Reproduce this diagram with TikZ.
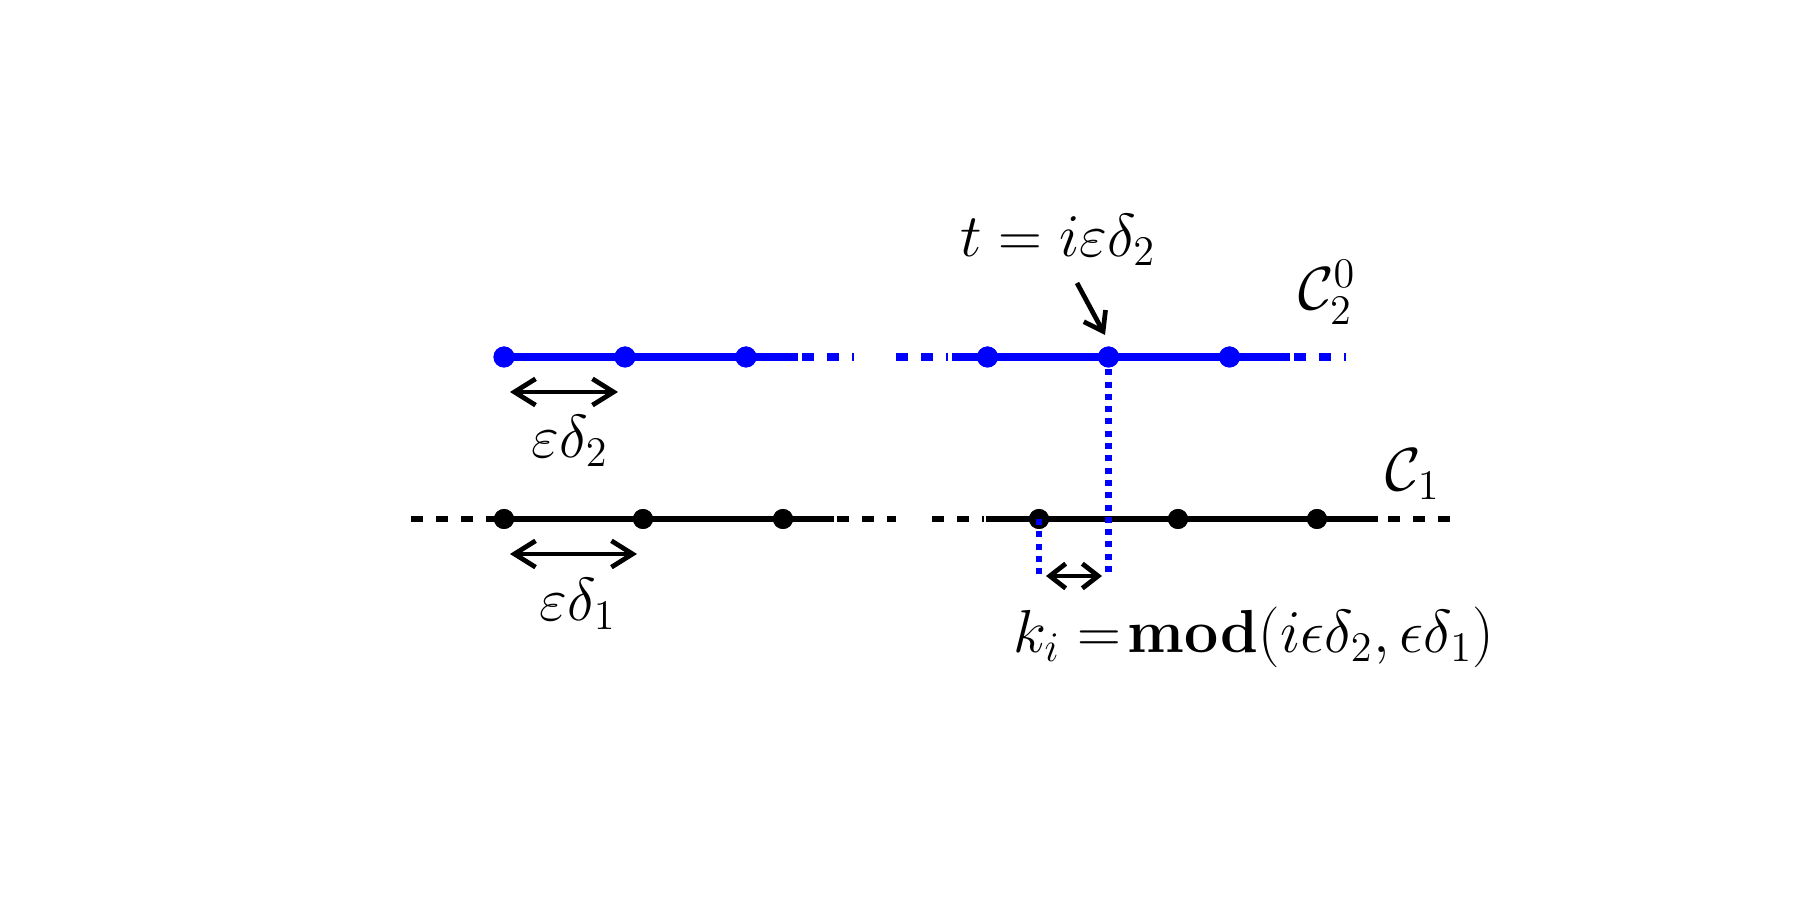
\documentclass[tikz,border=0pt]{standalone}
\usepackage{amsmath,amssymb}
\usetikzlibrary{arrows.meta}
\tikzset{
  bdot/.style={circle, fill=blue, draw=none, inner sep=0pt, minimum size=0.21cm},
  kdot/.style={circle, fill=black, draw=none, inner sep=0pt, minimum size=0.2cm},
  bline/.style={blue, line width=2.2pt},
  kline/.style={black, line width=1.9pt},
  dsh/.style={dash pattern=on 0.12cm off 0.13cm},
  vdots/.style={blue, line width=1.8pt, dash pattern=on 0.06cm off 0.063cm},
  dimarrow/.style={line width=1.35pt, {Straight Barb[length=6pt,width=7.5pt]}-{Straight Barb[length=6pt,width=7.5pt]}},
  smallarrow/.style={line width=1.35pt, {Straight Barb[length=4.5pt,width=7pt]}-{Straight Barb[length=4.5pt,width=7pt]}},
  ptarrow/.style={line width=1.35pt, -{Straight Barb[length=5pt,width=7pt]}},
  lbl/.style={font=\LARGE, inner sep=0pt}
}
\begin{document}
\begin{tikzpicture}
\useasboundingbox (0,0) rectangle (18,9);
% ---- blue line C_2^0 ----
\node[bdot] (b1) at (5.04,5.43) {};
\node[bdot] (b2) at (6.25,5.43) {};
\node[bdot] (b3) at (7.46,5.43) {};
\node[bdot] (b4) at (9.875,5.43) {};
\node[bdot] (b5) at (11.085,5.43) {};
\node[bdot] (b6) at (12.295,5.43) {};
\coordinate (bLe) at (7.98,5.43);
\coordinate (bLds) at (8.02,5.43);
\coordinate (bLde) at (8.54,5.43);
\coordinate (bRds) at (8.96,5.43);
\coordinate (bRde) at (9.48,5.43);
\coordinate (bRs) at (9.52,5.43);
\coordinate (bRe) at (12.90,5.43);
\coordinate (bEds) at (12.94,5.43);
\coordinate (bEde) at (13.46,5.43);
% ---- black line C_1 ----
\node[kdot] (k1) at (5.04,3.81) {};
\node[kdot] (k2) at (6.43,3.81) {};
\node[kdot] (k3) at (7.83,3.81) {};
\node[kdot] (k4) at (10.39,3.81) {};
\node[kdot] (k5) at (11.78,3.81) {};
\node[kdot] (k6) at (13.17,3.81) {};
\coordinate (kSds) at (4.11,3.81);
\coordinate (kLe) at (8.34,3.81);
\coordinate (kLds) at (8.37,3.81);
\coordinate (kLde) at (8.96,3.81);
\coordinate (kRds) at (9.32,3.81);
\coordinate (kRde) at (9.835,3.81);
\coordinate (kRs) at (9.86,3.81);
\coordinate (kRe) at (13.78,3.81);
\coordinate (kEds) at (13.88,3.81);
\coordinate (kEde) at (14.50,3.81);
% lines
\draw[bline] (b1.center) -- (bLe);
\draw[bline,dsh] (bLds) -- (bLde);
\draw[bline,dsh] (bRds) -- (bRde);
\draw[bline] (bRs) -- (bRe);
\draw[bline,dsh] (bEds) -- (bEde);
\draw[kline,dsh] (kSds) -- (k1.center);
\draw[kline] (k1.center) -- (kLe);
\draw[kline,dsh] (kLds) -- (kLde);
\draw[kline,dsh] (kRds) -- (kRde);
\draw[kline] (kRs) -- (kRe);
\draw[kline,dsh] (kEds) -- (kEde);
\foreach \n in {b1,b2,b3,b4,b5,b6} \fill[blue] (\n.center) circle (0.105cm);
\foreach \n in {k1,k2,k3,k4,k5,k6} \fill[black] (\n.center) circle (0.1cm);
% ---- dotted projections ----
\coordinate (v1) at (10.39,3.255);
\coordinate (v2) at (11.085,3.255);
\draw[vdots] (b5.center) -- (v2);
\draw[vdots] (k4.center) -- (v1);
% ---- dimension arrows ----
\coordinate (a2l) at (5.10,5.08);
\coordinate (a2r) at (6.18,5.08);
\draw[dimarrow] (a2l) -- (a2r);
\coordinate (a1l) at (5.10,3.46);
\coordinate (a1r) at (6.37,3.46);
\draw[dimarrow] (a1l) -- (a1r);
\coordinate (akl) at (10.46,3.24);
\coordinate (akr) at (11.02,3.24);
\draw[smallarrow] (akl) -- (akr);
% ---- labels ----
\node[lbl] (le2) at (5.70,4.59) {$\varepsilon\delta_2$};
\node[lbl] (le1) at (5.78,2.96) {$\varepsilon\delta_1$};
\node[lbl] (lt) at (10.58,6.60) {$t = i\varepsilon\delta_2$};
\node[lbl] (lc2) at (13.27,6.08) {$\mathcal{C}_2^0$};
\node[lbl] (lc1) at (14.13,4.26) {$\mathcal{C}_1$};
\node[lbl] (lk) at (12.54,2.63) {$k_i =\mskip-3mu\mathbf{mod}(i\epsilon\delta_2, \epsilon\delta_1)$};
\coordinate (ta) at (10.77,6.17);
\coordinate (tb) at (11.05,5.65);
\draw[ptarrow] (ta) -- (tb);
\end{tikzpicture}
\end{document}
